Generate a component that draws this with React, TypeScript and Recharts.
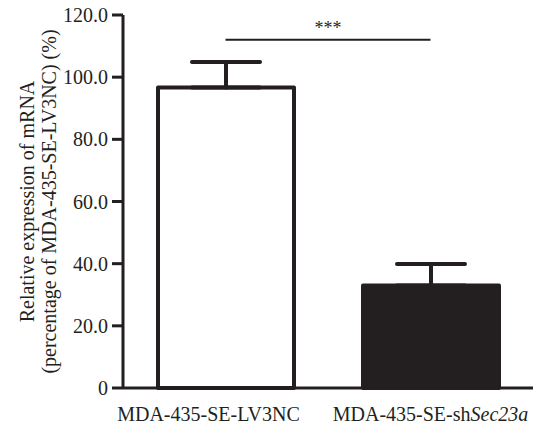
import React from 'react';
import { BarChart, Bar, XAxis, YAxis, Cell, ErrorBar, ReferenceLine } from 'recharts';

const categories = ['MDA-435-SE-LV3NC', 'MDA-435-SE-shSec23a'];
const italicPart = 'Sec23a';
const means = [96.7, 33.0];
const errorsUp = [8.2, 6.9];
const yTicks = [0, 20, 40, 60, 80, 100, 120];
const fills = ['#ffffff', '#231f20'];
const sigLevel = 112;
const sigLabel = '***';
const yLabelLines = ['Relative expression of mRNA', '(percentage of MDA-435-SE-LV3NC) (%)'];

const data = categories.map((c, i) => ({ name: c, value: means[i], err: [0, errorsUp[i]] }));

const INK = '#231f20';
const FONT = '"Liberation Serif", "Times New Roman", serif';

const XTick = (props: any) => {
  const { x, y, payload, index } = props;
  const label: string = payload.value;
  const shift = index === 0 ? -17 : 0;
  let normal = label;
  let ital = '';
  if (label.endsWith(italicPart)) {
    normal = label.slice(0, label.length - italicPart.length);
    ital = italicPart;
  }
  return (
    <text x={x + shift} y={y + 33} textAnchor="middle" fontSize={20} fontFamily={FONT} fill={INK}>
      <tspan>{normal}</tspan>
      {ital ? <tspan fontStyle="italic">{ital}</tspan> : null}
    </text>
  );
};

const YLabel = (props: any) => {
  const vb = props.viewBox || {};
  const cy = vb.y + vb.height / 2;
  const xs = [vb.x + 27, vb.x + 49];
  return (
    <g>
      {yLabelLines.map((t, i) => (
        <text
          key={i}
          x={xs[i]}
          y={cy}
          transform={`rotate(-90, ${xs[i]}, ${cy})`}
          textAnchor="middle"
          dominantBaseline="central"
          fontSize={20}
          fontFamily={FONT}
          fill={INK}
        >
          {t}
        </text>
      ))}
    </g>
  );
};

export default function App() {
  return (
    <div style={{ position: 'absolute', left: 0, top: 0, width: 533, height: 428, background: '#fff' }}>
      <BarChart width={533} height={428} data={data} margin={{ top: 15, right: 0, bottom: 10, left: 0 }} barCategoryGap={0}>
        <XAxis
          dataKey="name"
          axisLine={{ stroke: INK, strokeWidth: 3 }}
          tickLine={false}
          tickSize={0}
          tickMargin={0}
          height={30}
          tick={<XTick />}
          interval={0}
        />
        <YAxis
          domain={[0, 120]}
          ticks={yTicks}
          interval={0}
          width={123}
          axisLine={{ stroke: INK, strokeWidth: 3 }}
          tickLine={{ stroke: INK, strokeWidth: 3 }}
          tickSize={11}
          tickMargin={4}
          tickFormatter={(v: number) => (v === 0 ? '0' : v.toFixed(1))}
          tick={{ fontSize: 20, fontFamily: FONT, fill: INK }}
          label={{ content: <YLabel /> }}
        />
        <Bar dataKey="value" barSize={136} isAnimationActive={false} stroke={INK} strokeWidth={4} strokeLinejoin="round">
          {data.map((d, i) => (
            <Cell key={i} fill={fills[i]} stroke={INK} strokeWidth={4} />
          ))}
          <ErrorBar dataKey="err" direction="y" width={34} stroke={INK} strokeWidth={4} strokeLinecap="round" isAnimationActive={false} />
        </Bar>
        <ReferenceLine
          segment={[{ x: categories[0], y: sigLevel }, { x: categories[1], y: sigLevel }]}
          stroke={INK}
          strokeWidth={2}
          label={{ value: sigLabel, position: 'top', offset: 6, fontSize: 18, fontFamily: FONT, fill: INK }}
        />
      </BarChart>
    </div>
  );
}
